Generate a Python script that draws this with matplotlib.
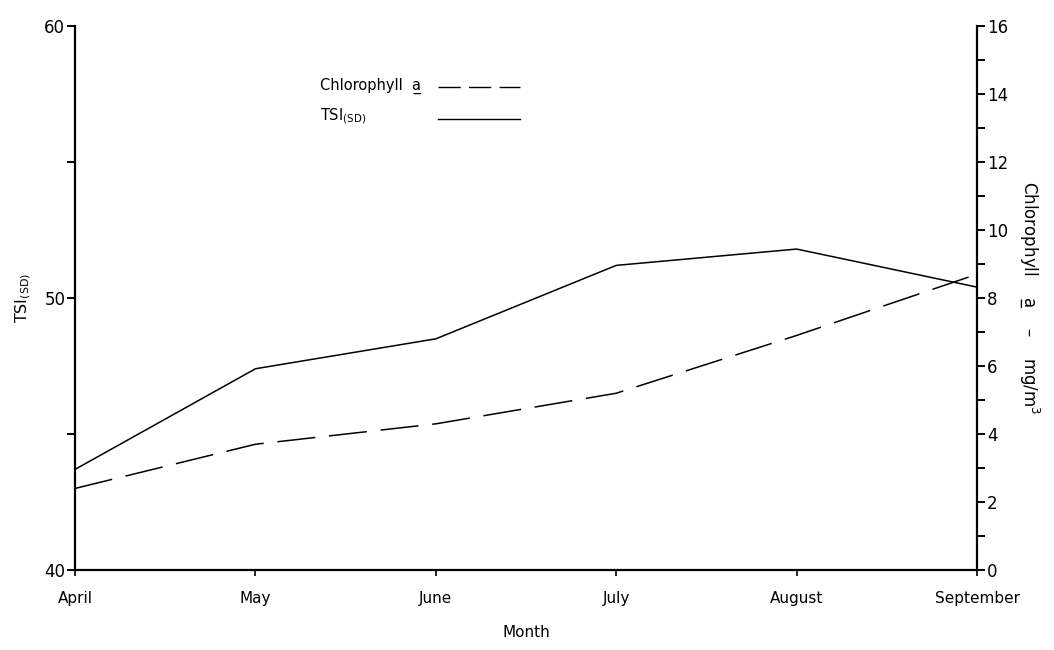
import matplotlib
matplotlib.use("Agg")
from matplotlib import pyplot as plt

# values
months = ["April", "May", "June", "July", "August", "September"]
tsi_sd = [43.7, 47.4, 48.5, 51.2, 51.8, 50.4]
chlorophyll_a = [2.4, 3.7, 4.3, 5.2, 6.9, 8.7]

plt.rcParams['font.family'] = ['DejaVu Sans']

UA = "a\u0332"  # underlined a

fig = plt.figure(figsize=(10.54, 6.5), dpi=100)
ax = fig.add_axes([0.0712, 0.123, 0.8558, 0.837])
ax2 = ax.twinx()

x = list(range(len(months)))

# TSI on the left axis, chlorophyll on the right one
ax.plot(x, tsi_sd, '-k', lw=1.1)
ax2.plot(x, chlorophyll_a, color='k', lw=1.1, dashes=(25, 9))

ax.set_xlim(0, len(months) - 1)
ax.set_ylim(40, 60)
ax2.set_ylim(0, 16)

for a in (ax, ax2):
    a.spines['top'].set_visible(False)
    a.patch.set_visible(False)
ax.spines['right'].set_visible(False)
ax2.spines['left'].set_visible(False)
ax2.spines['bottom'].set_visible(False)
for s in ('left', 'bottom'):
    ax.spines[s].set_linewidth(1.6)
ax2.spines['right'].set_linewidth(1.6)

ax.set_xticks(x)
ax.set_xticklabels(months, fontsize=11)
ax.tick_params(axis='x', direction='out', length=4, width=1.2, pad=11)

ax.set_yticks([40, 50, 60])
ax.set_yticks([45, 55], minor=True)
ax.tick_params(axis='y', which='both', direction='out', length=6, width=1.4,
               labelsize=12, pad=1)

ax2.set_yticks(range(0, 17, 2))
ax2.set_yticks(range(1, 16, 2), minor=True)
ax2.tick_params(axis='y', which='both', direction='out', length=6, width=1.4,
                labelsize=12, pad=1)

ax.set_xlabel("Month", fontsize=11, labelpad=14)
ax.set_ylabel(r"TSI$_{\rm (SD)}$", fontsize=11.5, labelpad=8)
ax2.set_ylabel("Chlorophyll    " + UA + "    \u2013    mg/m$^3$",
               fontsize=12, rotation=270, labelpad=24)

# hand drawn key, text on the left and the line sample on the right
ax.text(0.272, 0.89, "Chlorophyll  " + UA, transform=ax.transAxes,
        fontsize=10.5, va='center')
ax.plot([0.402, 0.493], [0.887, 0.887], color='k', lw=1.0, dashes=(16, 6),
        transform=ax.transAxes)
ax.text(0.272, 0.835, r"TSI$_{\rm (SD)}$", transform=ax.transAxes,
        fontsize=10.5, va='center')
ax.plot([0.402, 0.493], [0.829, 0.829], color='k', lw=1.0,
        transform=ax.transAxes)

fig.savefig("out.png", dpi=100)
